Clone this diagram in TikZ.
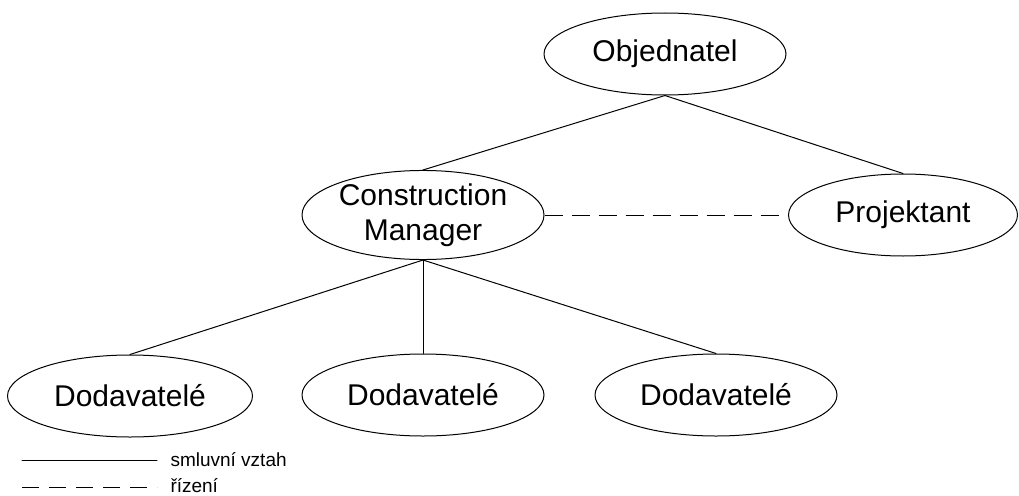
\documentclass[tikz,border=0pt]{standalone}
\usepackage{fontspec}
\setmainfont{Liberation Sans}
\usetikzlibrary{shapes.geometric}
\begin{document}
\begin{tikzpicture}[x=1pt,y=-1pt,line join=round,line cap=round,line width=1pt,
		uzel/.style={draw,ellipse,inner sep=0pt,minimum width=242pt,minimum height=82pt,align=center,font=\fontsize{30}{35}\selectfont},
		rizeni/.style={dash pattern=on 18pt off 9pt,line cap=butt},
		popis/.style={right,inner sep=0pt,font=\fontsize{19}{21}\selectfont}]
			\useasboundingbox (0,0) rectangle (1019,495);
			\node[uzel] (obj)at(665,54) {Objednatel};
			\node[uzel] (cm)at(423,215) {Construction\\Manager};
			\node[uzel,minimum width=229pt] (proj)at(903,215) {Projektant};
			\node[uzel,minimum width=245pt] (dod1)at(130,396) {Dodavatelé};
			\node[uzel] (dod2)at(423,395) {Dodavatelé};
			\node[uzel] (dod3)at(716,395) {Dodavatelé};
			\draw (obj.south)--(cm.north);
			\draw (obj.south)--(proj.north);
			\draw (cm.south)--(dod1.north);
			\draw (cm.south)--(dod2.north);
			\draw (cm.south)--(dod3.north);
			\draw[rizeni] (cm.east)--(proj.west);
			% legenda
			\coordinate (s1)at(22,460);
			\coordinate (s2)at(157,460);
			\coordinate (r1)at(22,487);
			\coordinate (r2)at(157,487);
			\draw (s1)--(s2);
			\draw[dash pattern=on 17pt off 10pt,line cap=butt] (r1)--(r2);
			\node[popis] (smlouva)at(170,460) {smluvní vztah};
			\node[popis] (rizenitext)at(170,486) {řízení};
	\end{tikzpicture}
\end{document}
